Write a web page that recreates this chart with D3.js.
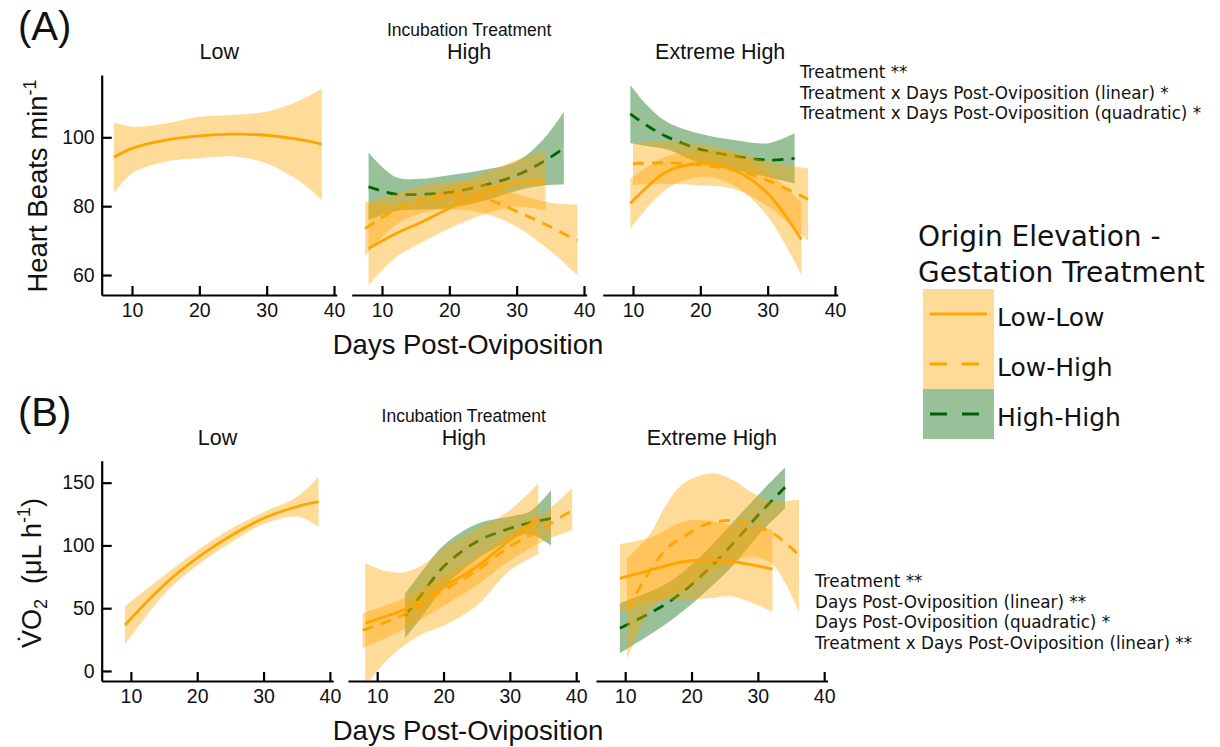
<!DOCTYPE html>
<html>
<head>
<meta charset="utf-8">
<script src="https://cdn.jsdelivr.net/npm/d3@7"></script>
<style>
  body { margin: 0; background: #fff; }
  text { font-family: "Liberation Sans", Arial, sans-serif; fill: #111; }
  .note, .leg { font-family: "DejaVu Sans", Verdana, sans-serif; }
</style>
</head>
<body>
<svg id="chart" width="1220" height="747"></svg>
<script>
// ---- data ----
const panels = [ "Low", "High", "Extreme High" ];
const groups = [ "Low-Low", "Low-High", "High-High" ];
const xTicks = [ 10, 20, 30, 40 ];
const hrTicks = [ 60, 80, 100 ];
const voTicks = [ 0, 50, 100, 150 ];

const hrNotes = [ "Treatment **",
  "Treatment x Days Post-Oviposition (linear) *",
  "Treatment x Days Post-Oviposition (quadratic) *" ];
const voNotes = [ "Treatment **",
  "Days Post-Oviposition (linear) **",
  "Days Post-Oviposition (quadratic) *",
  "Treatment x Days Post-Oviposition (linear) **" ];

// rows: [day, fitted, lower, upper]
// (A) heart rate
const hrLowLL = [ [7.3, 94.2, 83.7, 104.2], [10, 96.8, 89.5, 103.1], [15, 99.2, 92.9, 104], [20, 100.4, 93.9, 106],
  [25, 100.9, 94.4, 106.5], [30, 100.6, 92.4, 107.5], [35, 99.3, 87.1, 110.8], [38.2, 98, 81.8, 114] ];

const hrHighLL = [ [8, 67.7, 57, 81], [12, 72, 65, 80.5], [16, 75.5, 69.5, 82], [20, 79.4, 73.5, 85.5],
  [25, 83.7, 77.5, 89.5], [30, 86.8, 79.8, 93.4], [34.3, 87.3, 78.7, 96] ];
const hrHighLH = [ [7.5, 73.5, 65.5, 81], [12, 79, 74.5, 83.5], [16, 82, 78, 86], [20, 83, 79, 87],
  [25, 82.3, 78, 86.5], [30, 78.5, 74, 83.5], [35, 74, 67, 81], [39, 70, 60, 80.5] ];
const hrHighHH = [ [8, 85.6, 76, 95.5], [12, 83.5, 78.5, 88.5], [16, 83.5, 79, 88], [20, 84, 79.5, 89],
  [25, 86, 81.5, 90.5], [30, 89, 84.5, 93], [34, 93, 86, 99.5], [37, 96.8, 86.3, 107.4] ];

const hrExtLL = [ [9.6, 80.8, 73.5, 88], [15, 90, 85, 94.5], [20, 92.4, 88.5, 96], [25, 90.5, 86, 95],
  [30, 83.7, 77, 90], [35, 70.3, 60, 81] ];
const hrExtLH = [ [10, 92.4, 86.1, 98.3], [15, 92.6, 86.5, 99], [20, 92, 86, 98], [25, 90.5, 85, 96],
  [30, 87.5, 80, 93], [36, 82, 70, 91] ];
const hrExtHH = [ [9.6, 106.8, 98.3, 115.2], [12, 103.5, 97.5, 109.5], [15, 100.2, 96.5, 104.5],
  [20, 96.5, 92.4, 101], [25, 94.6, 90.5, 99.2], [30, 93.4, 88.5, 98.3], [34, 93.9, 86.6, 101.2] ];

// (B) oxygen consumption
const voLowLL = [ [9.1, 36.6, 21, 51.5], [15, 68.5, 61, 76], [20, 90, 84, 96], [25, 107.5, 102, 113],
  [30, 121.6, 117, 126.5], [35, 130.8, 123, 138.5], [38.3, 134.8, 115, 154.5] ];

const voHighLL = [ [8.2, 38, -12, 86], [11, 43, 6, 80], [14, 48.6, 20, 78.5], [17, 57, 30, 85], [20, 67, 36, 98],
  [25, 83, 52, 113], [30, 104.3, 80, 128], [34.3, 121.6, 93, 149.5] ];
const voHighLH = [ [7.8, 32.5, 18, 46], [14, 45, 33, 58], [20, 64, 52, 76], [25, 80, 68, 91],
  [30, 99, 88, 109], [35, 114, 103, 125], [39.4, 128, 112, 145.5] ];
const voHighHH = [ [14.2, 43.8, 26, 61.5], [17, 63, 45, 81], [20, 83, 66, 100], [25, 103, 89, 117],
  [30, 113.6, 104, 123], [33, 118, 109, 127], [36.2, 121.6, 100, 144] ];

const voExtLL = [ [9.2, 73.8, 46.4, 101.1], [13.8, 80.4, 55.2, 106.4], [18.8, 87, 56.5, 118.9],
  [22.8, 88.4, 57.9, 119.7], [26.3, 87, 59.2, 116.2], [32.2, 81.2, 47.2, 113] ];
const voExtLH = [ [10.25, 48.6, 8.8, 89.7], [13.8, 80.4, 48.6, 109.6], [16.3, 97.7, 59.2, 133.5],
  [18.8, 107, 64.5, 149.4], [22.8, 118, 78.8, 157.4], [26.3, 119.7, 87.3, 152], [29.3, 116, 91, 141.5],
  [32.3, 109.6, 84.4, 134.8], [36.2, 92.4, 47.2, 136.7] ];
const voExtHH = [ [9.2, 34, 14.1, 53.9], [16.3, 53.9, 38, 69.8], [21.3, 75, 59.2, 91],
  [26.3, 101.7, 84.4, 118.9], [30.3, 125.6, 109.6, 141.5], [34.1, 146.3, 129.5, 162.2] ];

// ---- styles ----
const fillOf = { "Low-Low": "#FFA500", "Low-High": "#FFA500", "High-High": "#006400" };
const lineOf = { "Low-Low": "#FFA500", "Low-High": "#FFA500", "High-High": "#006400" };
const dashOf = { "Low-Low": null, "Low-High": "11,8", "High-High": "11,8" };
const drawOrder = [ "High-High", "Low-Low", "Low-High" ];

const svg = d3.select( "#chart" );

function drawBlock( b ) {

  const y = d3.scaleLinear().domain( b.yDomain ).range( [ b.bottom, b.top ] );

  b.xStarts.forEach( ( x0, i ) => {

    const x = d3.scaleLinear().domain( b.xDomain ).range( [ x0, x0 + b.width ] );
    const clipId = b.id + "clip" + i;

    svg.append( "clipPath" ).attr( "id", clipId )
      .append( "rect" )
        .attr( "x", x0 ).attr( "y", b.top - 5 )
        .attr( "width", b.width ).attr( "height", b.bottom - b.top + 5 );

    const plot = svg.append( "g" ).attr( "clip-path", `url(#${ clipId })` );

    drawOrder.forEach( grp => {
      const rows = b.curves[ i ][ grp ];
      if ( !rows ) return;

      const area = d3.area()
        .x( d => x( d[ 0 ] ) )
        .y0( d => y( d[ 2 ] ) )
        .y1( d => y( d[ 3 ] ) )
        .curve( d3.curveCatmullRom );
      const line = d3.line()
        .x( d => x( d[ 0 ] ) )
        .y( d => y( d[ 1 ] ) )
        .curve( d3.curveCatmullRom );

      plot.append( "path" ).attr( "d", area( rows ) )
        .attr( "fill", fillOf[ grp ] ).attr( "fill-opacity", 0.4 );
      plot.append( "path" ).attr( "d", line( rows ) )
        .attr( "fill", "none" ).attr( "stroke", lineOf[ grp ] )
        .attr( "stroke-width", 2.8 )
        .attr( "stroke-dasharray", dashOf[ grp ] );
    } );

    // x axis, ticks point inwards
    const gx = svg.append( "g" )
      .attr( "transform", `translate(0,${ b.bottom })` )
      .call( d3.axisBottom( x ).tickValues( xTicks ).tickSizeInner( -9 ).tickSizeOuter( 0 ).tickPadding( 8.5 ) );
    styleAxis( gx );

    if ( i === 0 ) {
      const gy = svg.append( "g" )
        .attr( "transform", `translate(${ x0 },0)` )
        .call( d3.axisLeft( y ).tickValues( b.yTicks ).tickSizeInner( -10 ).tickSizeOuter( 0 ).tickPadding( 7 ) );
      styleAxis( gy );
    }

    svg.append( "text" )
      .attr( "x", x0 + b.width / 2 ).attr( "y", b.top - 16 )
      .attr( "text-anchor", "middle" ).attr( "font-size", 21.5 )
      .text( panels[ i ] );

    if ( i === 1 ) {
      svg.append( "text" )
        .attr( "x", x0 + b.width / 2 ).attr( "y", b.top - 39 )
        .attr( "text-anchor", "middle" ).attr( "font-size", 17.5 )
        .text( "Incubation Treatment" );
    }
  } );

  // panel letter
  svg.append( "text" ).attr( "x", 18 ).attr( "y", b.top - 35 )
    .attr( "font-size", 40 ).text( b.letter );

  // x title
  svg.append( "text" )
    .attr( "x", 468 ).attr( "y", b.bottom + 59 )
    .attr( "text-anchor", "middle" ).attr( "font-size", 27.5 )
    .text( "Days Post-Oviposition" );

  // notes
  const notes = svg.append( "text" ).attr( "class", "note" ).attr( "font-size", 16.8 );
  b.notes.forEach( ( t, k ) => {
    notes.append( "tspan" ).attr( "x", b.noteX ).attr( "y", b.noteY + k * 20.7 ).text( t );
  } );
}

function styleAxis( g ) {
  g.select( ".domain" ).attr( "stroke", "#000" ).attr( "stroke-width", 2.2 );
  g.selectAll( ".tick line" ).attr( "stroke", "#000" ).attr( "stroke-width", 2.2 );
  g.selectAll( ".tick text" ).attr( "font-size", 19.5 ).attr( "fill", "#111" )
    .attr( "font-family", "Liberation Sans, Arial, sans-serif" );
  g.attr( "font-family", null ).attr( "font-size", null );
}

drawBlock( {
  id: "hr", letter: "(A)",
  top: 75, bottom: 295, width: 235,
  xStarts: [ 101.7, 351.7, 602.7 ],
  xDomain: [ 5.5, 40.4 ], yDomain: [ 54.2, 118.1 ], yTicks: hrTicks,
  curves: [ { "Low-Low": hrLowLL },
            { "Low-Low": hrHighLL, "Low-High": hrHighLH, "High-High": hrHighHH },
            { "Low-Low": hrExtLL, "Low-High": hrExtLH, "High-High": hrExtHH } ],
  notes: hrNotes, noteX: 800, noteY: 78
} );

drawBlock( {
  id: "vo", letter: "(B)",
  top: 460.7, bottom: 681, width: 231.5,
  xStarts: [ 101.7, 348, 596 ],
  xDomain: [ 5.6, 40.5 ], yDomain: [ -8, 167.5 ], yTicks: voTicks,
  curves: [ { "Low-Low": voLowLL },
            { "Low-Low": voHighLL, "Low-High": voHighLH, "High-High": voHighHH },
            { "Low-Low": voExtLL, "Low-High": voExtLH, "High-High": voExtHH } ],
  notes: voNotes, noteX: 815, noteY: 587
} );

// y titles
const hrTitle = svg.append( "text" )
  .attr( "transform", "translate(47,186) rotate(-90)" )
  .attr( "text-anchor", "middle" ).attr( "font-size", 27.5 );
hrTitle.append( "tspan" ).text( "Heart Beats min" );
hrTitle.append( "tspan" ).attr( "font-size", 18 ).attr( "dy", -11 ).text( "-1" );

const voTitle = svg.append( "text" )
  .attr( "transform", "translate(41,573) rotate(-90)" )
  .attr( "text-anchor", "middle" ).attr( "font-size", 27 );
voTitle.append( "tspan" ).text( "V\u0307O" );
voTitle.append( "tspan" ).attr( "font-size", 18 ).attr( "dy", 6 ).text( "2" );
voTitle.append( "tspan" ).attr( "dy", -6 ).text( "\u00a0\u00a0(\u03bcL h" );
voTitle.append( "tspan" ).attr( "font-size", 18 ).attr( "dy", -11 ).text( "-1" );
voTitle.append( "tspan" ).attr( "dy", 11 ).text( ")" );

// legend
const leg = svg.append( "g" ).attr( "class", "leg" );
leg.append( "text" ).attr( "class", "leg" ).attr( "x", 918 ).attr( "y", 246 ).attr( "font-size", 28 ).text( "Origin Elevation -" );
leg.append( "text" ).attr( "class", "leg" ).attr( "x", 918 ).attr( "y", 282 ).attr( "font-size", 28 ).text( "Gestation Treatment" );
groups.forEach( ( grp, k ) => {
  const ky = 289 + k * 50;
  leg.append( "rect" ).attr( "x", 923 ).attr( "y", ky ).attr( "width", 71 ).attr( "height", 50 )
    .attr( "fill", fillOf[ grp ] ).attr( "fill-opacity", 0.4 );
  leg.append( "line" ).attr( "x1", 930 ).attr( "x2", 987 ).attr( "y1", ky + 25 ).attr( "y2", ky + 25 )
    .attr( "stroke", lineOf[ grp ] ).attr( "stroke-width", 3 )
    .attr( "stroke-dasharray", dashOf[ grp ] ? "17,15" : null );
  leg.append( "text" ).attr( "class", "leg" ).attr( "x", 997 ).attr( "y", ky + 37 ).attr( "font-size", 25 ).text( grp );
} );
</script>
</body>
</html>
